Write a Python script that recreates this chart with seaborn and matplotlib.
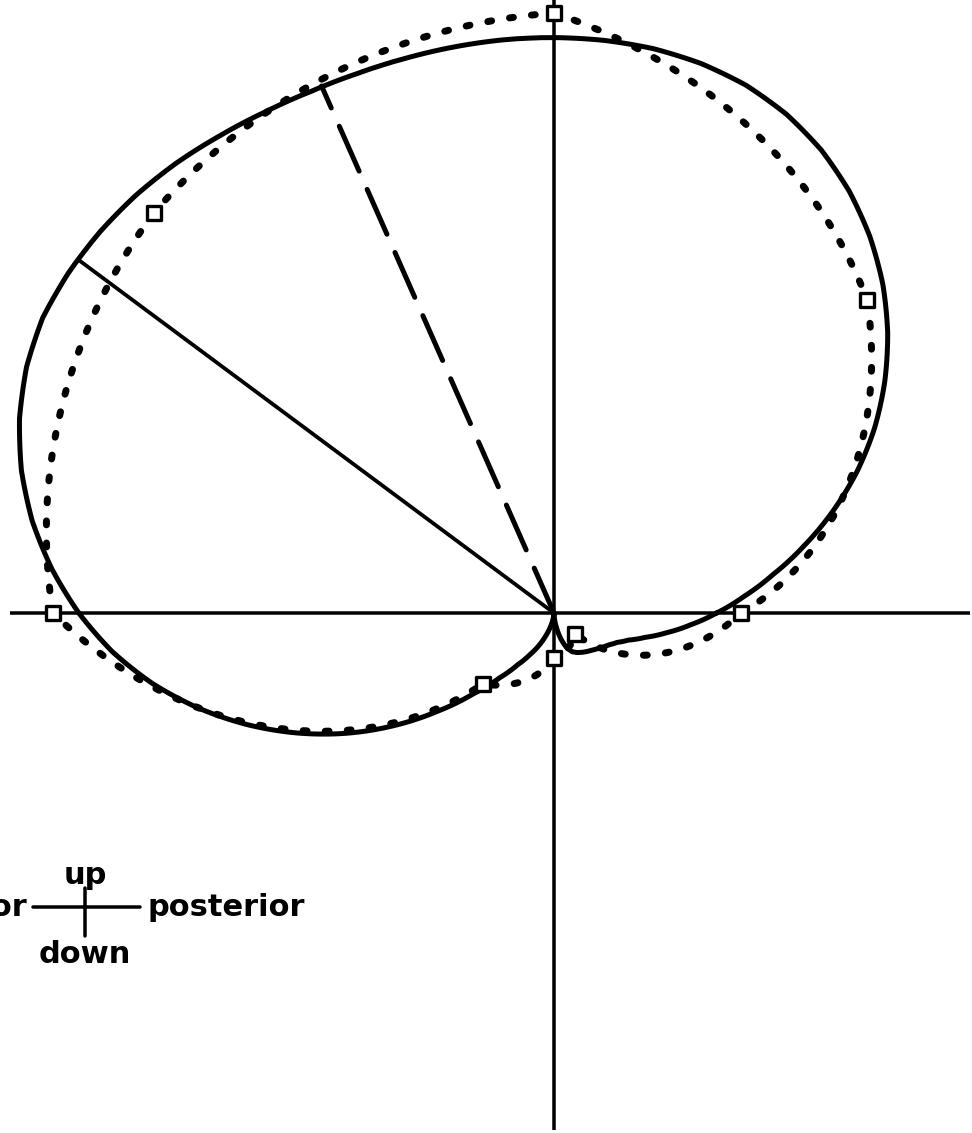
import numpy as np
import pandas as pd
import matplotlib
matplotlib.use("Agg")
import matplotlib.pyplot as plt
import seaborn as sns
from matplotlib.lines import Line2D

sns.set_theme(style="white")
plt.rcParams['font.family'] = ['DejaVu Sans']

# Measured responses at eight stimulus directions (deg, relative amplitude)
meas_deg = [0, 45, 90, 135, 180, 225, 270, 315]
meas_r = [31.2, 73.8, 100.0, 94.3, 83.5, 16.7, 7.5, 5.0]

# Fitted tuning curve, sampled every 5 deg
fit_deg = list(range(0, 360, 5))
fit_r = [27.1, 31.8, 37.1, 43.1, 49.4, 55.7, 61.7, 67.3, 72.6, 77.5, 81.9, 85.8,
         89.1, 91.7, 93.6, 94.8, 95.5, 95.8, 95.9, 95.9, 95.8, 95.7, 95.7, 95.9,
         96.4, 97.1, 97.9, 98.5, 98.8, 98.8, 98.4, 97.0, 94.8, 91.9, 88.3, 84.0,
         79.2, 73.9, 67.9, 61.3, 54.4, 47.3, 40.1, 32.8, 25.6, 19.1, 14.1, 10.5,
         8.0, 6.0, 4.1, 2.5, 1.2, 0.3, 0.0, 1.0, 2.6, 4.5, 6.1, 7.1,
         7.6, 8.0, 8.4, 8.8, 9.3, 9.9, 10.6, 11.6, 13.2, 15.7, 19.0, 22.8]

# Preferred directions: peak of the fit (solid) and vector mean (dashed)
peak_deg, peak_r = 143.4, 98.8
vmean_deg, vmean_r = 113.8, 96.0

# Extent of the reference axes (anterior/posterior, up/down)
axis_right, axis_left, axis_up, axis_down = 69.3, 90.7, 102.2, 86.2

W, H = 972, 1133
fig = plt.figure(figsize=(W / 100, H / 100), dpi=100, facecolor="white")

cx, cy = 554, 613        # origin position in pixels (from top-left)
px_per_unit = 6.0
R_px = 620
ax = fig.add_axes([(cx - R_px) / W, (H - cy - R_px) / H, 2 * R_px / W, 2 * R_px / H],
                  projection="polar")
ax.set_ylim(0, R_px / px_per_unit)
ax.set_axis_off()


def px(v):
    return v * 72 / 100  # pixels -> points


# reference axes
for th, rr in [(0, axis_right), (180, axis_left), (90, axis_up), (270, axis_down)]:
    ax.plot([np.deg2rad(th)] * 2, [0, rr], color="black", lw=px(3.5),
            clip_on=False, solid_capstyle="butt")

# fitted curve (solid)
fit_df = pd.DataFrame({"theta": np.deg2rad(fit_deg + [360]), "r": fit_r + [fit_r[0]]})
sns.lineplot(data=fit_df, x="theta", y="r", ax=ax, sort=False, estimator=None,
             color="black", lw=px(5), clip_on=False)
fit_line = ax.lines[-1]
fit_line.set_solid_joinstyle("round")
fit_line.get_path()._interpolation_steps = 20

# measured curve (dotted) with square markers
meas_df = pd.DataFrame({"theta": np.deg2rad(meas_deg + [360]), "r": meas_r + [meas_r[0]]})
sns.lineplot(data=meas_df, x="theta", y="r", ax=ax, sort=False, estimator=None,
             color="black", lw=px(7), clip_on=False)
dot_line = ax.lines[-1]
dot_line.set_linestyle((0, (0.55, 2.6)))
dot_line.set_dash_capstyle("round")
dot_line.get_path()._interpolation_steps = 40

sns.scatterplot(x=np.deg2rad(meas_deg), y=meas_r, ax=ax, marker="s", s=95,
                facecolor="white", edgecolor="black", linewidth=2.4, zorder=5,
                clip_on=False)

# preferred-direction vectors
ax.plot([np.deg2rad(peak_deg)] * 2, [0, peak_r], color="black", lw=px(3.8),
        clip_on=False)
ln = ax.plot([np.deg2rad(vmean_deg)] * 2, [0, vmean_r], color="black", lw=px(5),
             clip_on=False)[0]
ln.set_linestyle((0, (9.8, 4.0)))
ln.set_dash_capstyle("round")

# orientation key
kx, ky = 85, 907


def fx(x):
    return x / W


def fy(y):
    return 1 - y / H


fig.add_artist(Line2D([fx(33), fx(140)], [fy(ky), fy(ky)], color="black", lw=px(3.5)))
fig.add_artist(Line2D([fx(kx), fx(kx)], [fy(888), fy(936)], color="black", lw=px(3.5)))
txt = dict(fontsize=22, fontweight="bold", color="black")
fig.text(fx(kx), fy(884), "up", ha="center", va="baseline", **txt)
fig.text(fx(kx), fy(963), "down", ha="center", va="baseline", **txt)
fig.text(fx(147), fy(916), "posterior", ha="left", va="baseline", **txt)
fig.text(fx(28), fy(916), "anterior", ha="right", va="baseline", **txt)

fig.savefig("out.png", dpi=100, facecolor="white")
